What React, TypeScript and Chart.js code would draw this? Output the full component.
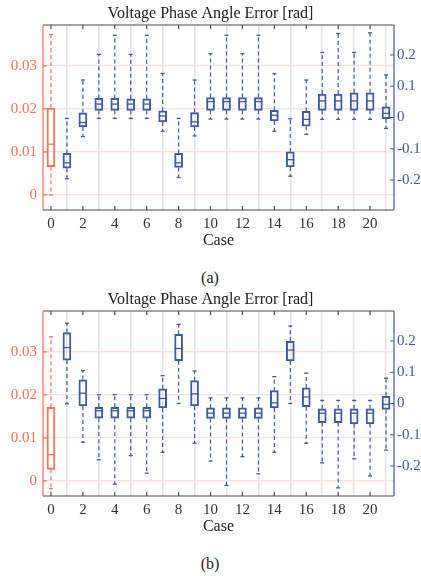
import React, { useEffect, useRef } from "react";
import { Chart, registerables } from "chart.js";

Chart.register(...registerables);

// ---------- data ----------
const cases = [1, 2, 3, 4, 5, 6, 7, 8, 9, 10, 11, 12, 13, 14, 15, 16, 17, 18, 19, 20, 21];
const redCase = 0;
const xTicks = [0, 2, 4, 6, 8, 10, 12, 14, 16, 18, 20];
const leftTicks = [0, 0.01, 0.02, 0.03];
const rightTicks = [-0.2, -0.1, 0, 0.1, 0.2];

// case 0 (left axis): [min, q1, median, q3, max]
const redA = [0.0, 0.0066, 0.0118, 0.0202, 0.0373];
const redB = [-0.0018, 0.0027, 0.0061, 0.0171, 0.0335];

// panel (a), cases 1..21 (right axis)
const minA = [-0.196, -0.061, -0.003, -0.003, -0.003, -0.003, -0.044, -0.192, -0.059, -0.005, -0.005, -0.005, -0.005, -0.044, -0.188, -0.054, -0.006, -0.006, -0.006, -0.006, -0.035];
const q1A = [-0.162, -0.03, 0.023, 0.023, 0.023, 0.023, -0.014, -0.16, -0.03, 0.023, 0.023, 0.023, 0.023, -0.011, -0.158, -0.028, 0.023, 0.023, 0.023, 0.023, -0.004];
const medA = [-0.145, -0.016, 0.043, 0.043, 0.043, 0.043, 0.005, -0.145, -0.014, 0.051, 0.051, 0.051, 0.051, 0.007, -0.135, -0.006, 0.053, 0.053, 0.053, 0.053, 0.013];
const q3A = [-0.115, 0.015, 0.061, 0.061, 0.06, 0.06, 0.021, -0.115, 0.016, 0.064, 0.064, 0.064, 0.064, 0.023, -0.11, 0.02, 0.075, 0.075, 0.079, 0.079, 0.034];
const maxA = [-0.003, 0.12, 0.202, 0.263, 0.202, 0.263, 0.141, -0.003, 0.12, 0.204, 0.263, 0.204, 0.263, 0.14, -0.004, 0.12, 0.208, 0.269, 0.208, 0.271, 0.136];

// panel (b), cases 1..21 (right axis)
const minB = [-0.001, -0.124, -0.18, -0.258, -0.167, -0.223, -0.156, 0.0, -0.127, -0.184, -0.262, -0.17, -0.225, -0.156, 0.0, -0.127, -0.19, -0.27, -0.177, -0.232, -0.149];
const q1B = [0.139, -0.008, -0.047, -0.047, -0.047, -0.047, -0.014, 0.137, -0.008, -0.048, -0.048, -0.048, -0.048, -0.014, 0.136, -0.01, -0.061, -0.061, -0.065, -0.065, -0.019];
const medB = [0.179, 0.033, -0.023, -0.023, -0.023, -0.023, 0.016, 0.176, 0.031, -0.031, -0.031, -0.031, -0.031, 0.002, 0.171, 0.021, -0.031, -0.031, -0.031, -0.031, -0.003];
const q3B = [0.227, 0.076, -0.012, -0.012, -0.012, -0.012, 0.047, 0.221, 0.073, -0.014, -0.014, -0.014, -0.014, 0.041, 0.199, 0.05, -0.017, -0.017, -0.017, -0.017, 0.023];
const maxB = [0.257, 0.105, 0.028, 0.028, 0.028, 0.028, 0.089, 0.253, 0.104, 0.018, 0.018, 0.018, 0.018, 0.086, 0.248, 0.097, 0.01, 0.01, 0.01, 0.01, 0.081];

const titleText = "Voltage Phase Angle Error [rad]";
const xTitle = "Case";

// ---------- style ----------
const RED = "#F2725A";
const BLUE = "#3D5C9E";
const DARK = "#4a4a4a";
const FONT = "'Liberation Serif', 'DejaVu Serif', serif";

Chart.defaults.font.family = FONT;

const framePlugin = {
  id: "frame",
  afterDraw(chart: any) {
    const { ctx, chartArea, scales } = chart;
    const { left, right, top, bottom } = chartArea;
    ctx.save();
    ctx.lineWidth = 1.2;
    // top & bottom borders + x ticks
    ctx.strokeStyle = DARK;
    ctx.beginPath();
    ctx.moveTo(left, top);
    ctx.lineTo(right, top);
    ctx.moveTo(left, bottom);
    ctx.lineTo(right, bottom);
    scales.x.ticks.forEach((t: any) => {
      const px = scales.x.getPixelForValue(t.value);
      ctx.moveTo(px, top);
      ctx.lineTo(px, top + 4);
      ctx.moveTo(px, bottom);
      ctx.lineTo(px, bottom - 4);
    });
    ctx.stroke();
    // left axis
    ctx.strokeStyle = RED;
    ctx.beginPath();
    ctx.moveTo(left, top);
    ctx.lineTo(left, bottom);
    scales.y.ticks.forEach((t: any) => {
      const py = scales.y.getPixelForValue(t.value);
      ctx.moveTo(left, py);
      ctx.lineTo(left + 4, py);
    });
    ctx.stroke();
    // right axis
    ctx.strokeStyle = BLUE;
    ctx.beginPath();
    ctx.moveTo(right, top);
    ctx.lineTo(right, bottom);
    scales.y1.ticks.forEach((t: any) => {
      const py = scales.y1.getPixelForValue(t.value);
      ctx.moveTo(right, py);
      ctx.lineTo(right - 4, py);
    });
    ctx.stroke();
    ctx.restore();
  },
};

function fmt(v: number) {
  return String(parseFloat(v.toFixed(3)));
}

type PanelProps = {
  red: number[];
  mins: number[];
  q1s: number[];
  meds: number[];
  q3s: number[];
  maxs: number[];
  caption: string;
  top: number;
};

function whiskerData(xs: number[], mins: number[], q1s: number[], q3s: number[], maxs: number[]) {
  const out: any[] = [];
  xs.forEach((x, i) => {
    out.push({ x, y: q3s[i] }, { x, y: maxs[i] }, { x, y: null });
    out.push({ x, y: q1s[i] }, { x, y: mins[i] }, { x, y: null });
  });
  return out;
}

function Panel({ red, mins, q1s, meds, q3s, maxs, caption, top }: PanelProps) {
  const ref = useRef<HTMLCanvasElement | null>(null);

  useEffect(() => {
    if (!ref.current) return;
    const boxCommon = {
      type: "bar" as const,
      backgroundColor: "rgba(255,255,255,0)",
      borderWidth: 1.3,
      borderSkipped: false,
      barThickness: 8,
      grouped: false,
    };
    const whiskerCommon = {
      type: "line" as const,
      borderWidth: 1.2,
      borderDash: [4, 3],
      pointRadius: 0,
      spanGaps: false,
      fill: false,
      tension: 0,
    };
    const pointCommon = {
      type: "scatter" as const,
      pointStyle: "line",
      showLine: false,
      pointBorderWidth: 1.3,
    };

    const chart = new Chart(ref.current, {
      type: "bar",
      data: {
        datasets: [
          {
            ...boxCommon,
            data: [{ x: redCase, y: [red[1], red[3]] }],
            borderColor: RED,
            yAxisID: "y",
          } as any,
          {
            ...boxCommon,
            data: cases.map((c, i) => ({ x: c, y: [q1s[i], q3s[i]] })),
            borderColor: BLUE,
            yAxisID: "y1",
          } as any,
          {
            ...whiskerCommon,
            data: whiskerData([redCase], [red[0]], [red[1]], [red[3]], [red[4]]),
            borderColor: RED,
            yAxisID: "y",
          } as any,
          {
            ...whiskerCommon,
            data: whiskerData(cases, mins, q1s, q3s, maxs),
            borderColor: BLUE,
            yAxisID: "y1",
          } as any,
          {
            ...pointCommon,
            data: [{ x: redCase, y: red[2] }],
            pointRadius: 4,
            pointBorderColor: RED,
            yAxisID: "y",
          } as any,
          {
            ...pointCommon,
            data: [{ x: redCase, y: red[0] }, { x: redCase, y: red[4] }],
            pointRadius: 2,
            pointBorderColor: RED,
            yAxisID: "y",
          } as any,
          {
            ...pointCommon,
            data: cases.map((c, i) => ({ x: c, y: meds[i] })),
            pointRadius: 4,
            pointBorderColor: BLUE,
            yAxisID: "y1",
          } as any,
          {
            ...pointCommon,
            data: [
              ...cases.map((c, i) => ({ x: c, y: mins[i] })),
              ...cases.map((c, i) => ({ x: c, y: maxs[i] })),
            ],
            pointRadius: 2,
            pointBorderColor: BLUE,
            yAxisID: "y1",
          } as any,
        ],
      },
      options: {
        responsive: false,
        animation: false,
        events: [],
        layout: { padding: 0 },
        plugins: {
          legend: { display: false },
          tooltip: { enabled: false },
          title: {
            display: true,
            text: titleText,
            color: "#222",
            font: { size: 16, weight: "normal" as any, family: FONT, lineHeight: 1.2 },
            padding: { top: 4, bottom: 1.8 },
          },
        },
        scales: {
          x: {
            type: "linear",
            min: -0.5,
            max: 21.5,
            offset: false,
            afterBuildTicks: (s: any) => {
              s.ticks = xTicks.map((v) => ({ value: v }));
            },
            afterFit: (s: any) => {
              s.height = 40;
            },
            grid: { color: "#e4e4e4", lineWidth: 1.5, drawTicks: false },
            border: { display: false },
            ticks: {
              color: "#333",
              padding: 5,
              font: { size: 15, family: FONT },
              callback: (v: any) => fmt(Number(v)),
              maxRotation: 0,
              autoSkip: false,
            },
            title: {
              display: true,
              text: xTitle,
              color: "#222",
              font: { size: 16, family: FONT, lineHeight: 1.2 },
              padding: { top: 0, bottom: 0 },
            },
          },
          y: {
            type: "linear",
            position: "left",
            min: -0.0035,
            max: 0.0395,
            afterBuildTicks: (s: any) => {
              s.ticks = leftTicks.map((v) => ({ value: v }));
            },
            afterFit: (s: any) => {
              s.width = 43;
            },
            grid: { color: "#fbe0dc", lineWidth: 1.2, drawTicks: false },
            border: { display: false },
            ticks: {
              color: RED,
              padding: 6,
              font: { size: 15, family: FONT },
              callback: (v: any) => fmt(Number(v)),
              autoSkip: false,
            },
          },
          y1: {
            type: "linear",
            position: "right",
            min: -0.296,
            max: 0.296,
            afterBuildTicks: (s: any) => {
              s.ticks = rightTicks.map((v) => ({ value: v }));
            },
            afterFit: (s: any) => {
              s.width = 27;
            },
            grid: { display: true, drawOnChartArea: false, drawTicks: false },
            border: { display: false },
            ticks: {
              color: BLUE,
              padding: 3,
              font: { size: 15, family: FONT },
              callback: (v: any) => fmt(Number(v)),
              autoSkip: false,
            },
          },
        },
      } as any,
      plugins: [framePlugin],
    });
    return () => chart.destroy();
  }, [red, mins, q1s, meds, q3s, maxs]);

  return (
    <div style={{ position: "absolute", left: 0, top, width: 421, height: 286 }}>
      <canvas ref={ref} width={421} height={250} style={{ display: "block", width: 421, height: 250 }} />
      <div
        style={{
          position: "absolute",
          left: 170,
          width: 80,
          top: 268,
          height: 20,
          lineHeight: "20px",
          textAlign: "center",
          fontFamily: FONT,
          fontSize: 16,
          color: "#222",
        }}
      >
        {caption}
      </div>
    </div>
  );
}

export default function App() {
  return (
    <div
      style={{
        position: "absolute",
        left: 0,
        top: 0,
        width: 421,
        height: 576,
        overflow: "hidden",
        background: "#fff",
      }}
    >
      <Panel red={redA} mins={minA} q1s={q1A} meds={medA} q3s={q3A} maxs={maxA} caption="(a)" top={0} />
      <Panel red={redB} mins={minB} q1s={q1B} meds={medB} q3s={q3B} maxs={maxB} caption="(b)" top={286} />
    </div>
  );
}
